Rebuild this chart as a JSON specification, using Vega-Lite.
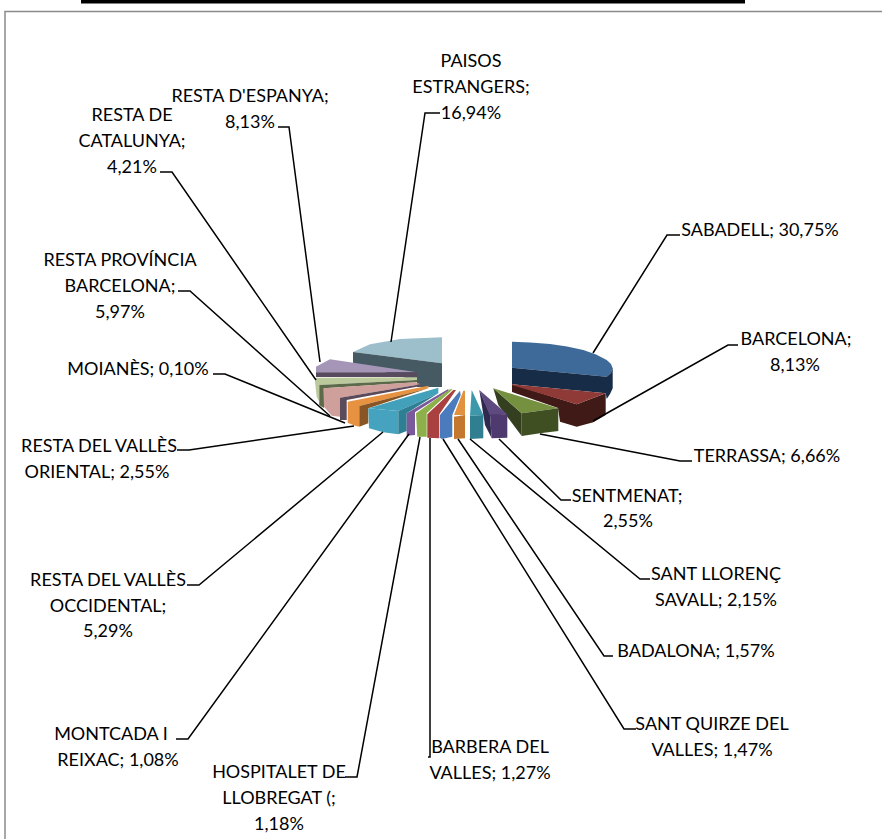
{"$schema":"https://vega.github.io/schema/vega-lite/v6.json","autosize":"none","width":882,"height":839,"padding":0,"background":"white","view":{"stroke":null},
"config":{"axis":{"domain":false,"ticks":false,"labels":false,"grid":false,"title":null}},
"datasets":{
"faces":[
{"p":"paisos_top","n":1,"x":353,"y":352},{"p":"paisos_top","n":2,"x":370,"y":344.3},{"p":"paisos_top","n":3,"x":400,"y":339},{"p":"paisos_top","n":4,"x":442,"y":337.3},{"p":"paisos_top","n":5,"x":442,"y":363.3},
{"p":"paisos_side","n":1,"x":353,"y":352},{"p":"paisos_side","n":2,"x":442,"y":363.3},{"p":"paisos_side","n":3,"x":442,"y":387},{"p":"paisos_side","n":4,"x":417,"y":387},{"p":"paisos_side","n":5,"x":417,"y":381},{"p":"paisos_side","n":6,"x":353,"y":363.5},
{"p":"espanya_top","n":1,"x":316,"y":366.7},{"p":"espanya_top","n":2,"x":330,"y":359.3},{"p":"espanya_top","n":3,"x":417,"y":372.3},{"p":"espanya_top","n":4,"x":316,"y":372.3},
{"p":"espanya_side","n":1,"x":316,"y":372.3},{"p":"espanya_side","n":2,"x":417,"y":372.3},{"p":"espanya_side","n":3,"x":417,"y":377},{"p":"espanya_side","n":4,"x":316,"y":377},
{"p":"catalunya_top","n":1,"x":315,"y":381.7},{"p":"catalunya_top","n":2,"x":316,"y":377.7},{"p":"catalunya_top","n":3,"x":417,"y":377.3},{"p":"catalunya_top","n":4,"x":417,"y":380},{"p":"catalunya_top","n":5,"x":319.3,"y":385},{"p":"catalunya_top","n":6,"x":319.3,"y":405},{"p":"catalunya_top","n":7,"x":324,"y":411},{"p":"catalunya_top","n":8,"x":316.7,"y":396.7},
{"p":"catalunya_side","n":1,"x":319.3,"y":385},{"p":"catalunya_side","n":2,"x":417,"y":380},{"p":"catalunya_side","n":3,"x":417,"y":382.3},{"p":"catalunya_side","n":4,"x":324,"y":388.3},{"p":"catalunya_side","n":5,"x":324,"y":408},{"p":"catalunya_side","n":6,"x":319.3,"y":405},
{"p":"provincia","n":1,"x":323.3,"y":388.3},{"p":"provincia","n":2,"x":415,"y":382.3},{"p":"provincia","n":3,"x":420.7,"y":384.3},{"p":"provincia","n":4,"x":340,"y":397.7},{"p":"provincia","n":5,"x":340,"y":416.7},{"p":"provincia","n":6,"x":331.7,"y":415.7},{"p":"provincia","n":7,"x":324,"y":406.7},
{"p":"moianes","n":1,"x":340,"y":397.7},{"p":"moianes","n":2,"x":420.7,"y":384.3},{"p":"moianes","n":3,"x":420.7,"y":386},{"p":"moianes","n":4,"x":346.7,"y":400},{"p":"moianes","n":5,"x":346.7,"y":420},{"p":"moianes","n":6,"x":340,"y":420},
{"p":"oriental_top","n":1,"x":347.7,"y":401.7},{"p":"oriental_top","n":2,"x":428.3,"y":385.7},{"p":"oriental_top","n":3,"x":428.3,"y":388.3},{"p":"oriental_top","n":4,"x":359.3,"y":406},{"p":"oriental_top","n":5,"x":359.3,"y":426.7},{"p":"oriental_top","n":6,"x":355,"y":425.7},{"p":"oriental_top","n":7,"x":347.7,"y":422.7},
{"p":"oriental_side","n":1,"x":359.3,"y":406},{"p":"oriental_side","n":2,"x":428.3,"y":388.3},{"p":"oriental_side","n":3,"x":368.3,"y":408.3},{"p":"oriental_side","n":4,"x":368.3,"y":423.3},{"p":"oriental_side","n":5,"x":359.3,"y":426.7},
{"p":"occidental_top","n":1,"x":368.3,"y":408.3},{"p":"occidental_top","n":2,"x":438.3,"y":387.7},{"p":"occidental_top","n":3,"x":438.3,"y":393.3},{"p":"occidental_top","n":4,"x":398.3,"y":411},
{"p":"occidental_front","n":1,"x":368.3,"y":408.3},{"p":"occidental_front","n":2,"x":398.3,"y":411},{"p":"occidental_front","n":3,"x":398.3,"y":434.3},{"p":"occidental_front","n":4,"x":383.3,"y":432.3},{"p":"occidental_front","n":5,"x":369,"y":428.3},
{"p":"occidental_side","n":1,"x":398.3,"y":411},{"p":"occidental_side","n":2,"x":438.3,"y":393.3},{"p":"occidental_side","n":3,"x":406.7,"y":413.3},{"p":"occidental_side","n":4,"x":406.7,"y":431},{"p":"occidental_side","n":5,"x":398.3,"y":434.3},
{"p":"montcada","n":1,"x":406.7,"y":413.3},{"p":"montcada","n":2,"x":448.3,"y":389},{"p":"montcada","n":3,"x":448.3,"y":391},{"p":"montcada","n":4,"x":415,"y":412.3},{"p":"montcada","n":5,"x":415,"y":435},{"p":"montcada","n":6,"x":406.7,"y":435.7},
{"p":"hospitalet","n":1,"x":416,"y":413.3},{"p":"hospitalet","n":2,"x":450,"y":389.3},{"p":"hospitalet","n":3,"x":452.7,"y":389.3},{"p":"hospitalet","n":4,"x":426.7,"y":413.3},{"p":"hospitalet","n":5,"x":426.7,"y":436.7},{"p":"hospitalet","n":6,"x":417.3,"y":436.7},
{"p":"barbera","n":1,"x":427.3,"y":414.3},{"p":"barbera","n":2,"x":453.3,"y":390},{"p":"barbera","n":3,"x":456,"y":390},{"p":"barbera","n":4,"x":439.3,"y":414.3},{"p":"barbera","n":5,"x":439.3,"y":438.3},{"p":"barbera","n":6,"x":427.3,"y":437.7},
{"p":"quirze","n":1,"x":440,"y":415},{"p":"quirze","n":2,"x":460,"y":390.7},{"p":"quirze","n":3,"x":460.7,"y":395},{"p":"quirze","n":4,"x":452.3,"y":415},{"p":"quirze","n":5,"x":452.3,"y":436.7},{"p":"quirze","n":6,"x":441.7,"y":439},{"p":"quirze","n":7,"x":440,"y":437.7},
{"p":"badalona_top","n":1,"x":454,"y":415},{"p":"badalona_top","n":2,"x":463.3,"y":390.7},{"p":"badalona_top","n":3,"x":465,"y":390.7},{"p":"badalona_top","n":4,"x":465,"y":415},
{"p":"badalona_front","n":1,"x":454,"y":416.7},{"p":"badalona_front","n":2,"x":465,"y":415},{"p":"badalona_front","n":3,"x":465,"y":438.3},{"p":"badalona_front","n":4,"x":454,"y":439},
{"p":"llorenc_top","n":1,"x":470,"y":415.7},{"p":"llorenc_top","n":2,"x":471.7,"y":390},{"p":"llorenc_top","n":3,"x":483.3,"y":415},
{"p":"llorenc_front","n":1,"x":470,"y":415.7},{"p":"llorenc_front","n":2,"x":483.3,"y":415},{"p":"llorenc_front","n":3,"x":483.3,"y":438.3},{"p":"llorenc_front","n":4,"x":470,"y":439},
{"p":"sabadell_top","n":1,"x":512,"y":341.7},{"p":"sabadell_top","n":2,"x":530,"y":342.4},{"p":"sabadell_top","n":3,"x":550,"y":344},{"p":"sabadell_top","n":4,"x":567,"y":346.4},{"p":"sabadell_top","n":5,"x":583.3,"y":350},{"p":"sabadell_top","n":6,"x":596,"y":354.5},{"p":"sabadell_top","n":7,"x":606.7,"y":360},{"p":"sabadell_top","n":8,"x":611,"y":364},{"p":"sabadell_top","n":9,"x":612.7,"y":368.3},{"p":"sabadell_top","n":10,"x":611,"y":373},{"p":"sabadell_top","n":11,"x":606.7,"y":376.7},{"p":"sabadell_top","n":12,"x":512,"y":367.7},
{"p":"sabadell_side","n":1,"x":512,"y":367.7},{"p":"sabadell_side","n":2,"x":606.7,"y":376.7},{"p":"sabadell_side","n":3,"x":611,"y":373},{"p":"sabadell_side","n":4,"x":612.7,"y":368.3},{"p":"sabadell_side","n":5,"x":612.7,"y":388.3},{"p":"sabadell_side","n":6,"x":610,"y":394},{"p":"sabadell_side","n":7,"x":606.7,"y":399},{"p":"sabadell_side","n":8,"x":605.7,"y":393.3},{"p":"sabadell_side","n":9,"x":512,"y":384.3},
{"p":"barcelona_side","n":1,"x":512,"y":384.3},{"p":"barcelona_side","n":2,"x":576.7,"y":404.3},{"p":"barcelona_side","n":3,"x":605.7,"y":393.3},{"p":"barcelona_side","n":4,"x":605.7,"y":415},{"p":"barcelona_side","n":5,"x":593.3,"y":422.3},{"p":"barcelona_side","n":6,"x":576.7,"y":426.7},{"p":"barcelona_side","n":7,"x":560,"y":421.7},{"p":"barcelona_side","n":8,"x":558,"y":408},{"p":"barcelona_side","n":9,"x":512,"y":392},
{"p":"barcelona_top","n":1,"x":512,"y":384.3},{"p":"barcelona_top","n":2,"x":605.7,"y":393.3},{"p":"barcelona_top","n":3,"x":576.7,"y":404.3},{"p":"barcelona_top","n":4,"x":512,"y":385},
{"p":"terrassa_left","n":1,"x":493.3,"y":388.3},{"p":"terrassa_left","n":2,"x":521.7,"y":413.3},{"p":"terrassa_left","n":3,"x":521.7,"y":436},{"p":"terrassa_left","n":4,"x":498.3,"y":405},
{"p":"terrassa_top","n":1,"x":493.3,"y":388.3},{"p":"terrassa_top","n":2,"x":558.3,"y":408.3},{"p":"terrassa_top","n":3,"x":521.7,"y":413.3},
{"p":"terrassa_front","n":1,"x":521.7,"y":413.3},{"p":"terrassa_front","n":2,"x":558.3,"y":408.3},{"p":"terrassa_front","n":3,"x":558.3,"y":431},{"p":"terrassa_front","n":4,"x":540,"y":433.3},{"p":"terrassa_front","n":5,"x":521.7,"y":436},
{"p":"sentmenat_left","n":1,"x":479.3,"y":390},{"p":"sentmenat_left","n":2,"x":490,"y":414.3},{"p":"sentmenat_left","n":3,"x":491.7,"y":438.3},{"p":"sentmenat_left","n":4,"x":485,"y":425},
{"p":"sentmenat_top","n":1,"x":479.3,"y":390},{"p":"sentmenat_top","n":2,"x":507.3,"y":414.3},{"p":"sentmenat_top","n":3,"x":490,"y":415.7},
{"p":"sentmenat_front","n":1,"x":490,"y":414.3},{"p":"sentmenat_front","n":2,"x":507.3,"y":414.3},{"p":"sentmenat_front","n":3,"x":507.3,"y":437.7},{"p":"sentmenat_front","n":4,"x":491.7,"y":438.3}
],
"leaders":[
{"p":"PAISOS","n":1,"x":440,"y":113},{"p":"PAISOS","n":2,"x":425,"y":113},{"p":"PAISOS","n":3,"x":391,"y":342},
{"p":"ESPANYA","n":1,"x":278,"y":127},{"p":"ESPANYA","n":2,"x":289,"y":127},{"p":"ESPANYA","n":3,"x":320,"y":362},
{"p":"CATALUNYA","n":1,"x":160,"y":172},{"p":"CATALUNYA","n":2,"x":172,"y":172},{"p":"CATALUNYA","n":3,"x":316,"y":380},
{"p":"PROVINCIA","n":1,"x":178,"y":291},{"p":"PROVINCIA","n":2,"x":190,"y":291},{"p":"PROVINCIA","n":3,"x":330,"y":416},
{"p":"MOIANES","n":1,"x":213,"y":374},{"p":"MOIANES","n":2,"x":225,"y":374},{"p":"MOIANES","n":3,"x":345,"y":423},
{"p":"ORIENTAL","n":1,"x":177,"y":450},{"p":"ORIENTAL","n":2,"x":189,"y":450},{"p":"ORIENTAL","n":3,"x":354,"y":426},
{"p":"OCCIDENTAL","n":1,"x":187,"y":585},{"p":"OCCIDENTAL","n":2,"x":199,"y":585},{"p":"OCCIDENTAL","n":3,"x":383,"y":432},
{"p":"MONTCADA","n":1,"x":176,"y":739},{"p":"MONTCADA","n":2,"x":188,"y":739},{"p":"MONTCADA","n":3,"x":409,"y":434},
{"p":"HOSPITALET","n":1,"x":345,"y":777},{"p":"HOSPITALET","n":2,"x":357,"y":777},{"p":"HOSPITALET","n":3,"x":420,"y":437},
{"p":"BARBERA","n":1,"x":428,"y":757},{"p":"BARBERA","n":2,"x":430,"y":757},{"p":"BARBERA","n":3,"x":430,"y":438},
{"p":"QUIRZE","n":1,"x":636,"y":729},{"p":"QUIRZE","n":2,"x":624,"y":729},{"p":"QUIRZE","n":3,"x":443,"y":439},
{"p":"BADALONA","n":1,"x":613,"y":656},{"p":"BADALONA","n":2,"x":604,"y":656},{"p":"BADALONA","n":3,"x":458,"y":439},
{"p":"LLORENC","n":1,"x":650,"y":579},{"p":"LLORENC","n":2,"x":640,"y":579},{"p":"LLORENC","n":3,"x":470,"y":439},
{"p":"SENTMENAT","n":1,"x":571,"y":500},{"p":"SENTMENAT","n":2,"x":561,"y":500},{"p":"SENTMENAT","n":3,"x":499,"y":439},
{"p":"TERRASSA","n":1,"x":692,"y":461},{"p":"TERRASSA","n":2,"x":680,"y":461},{"p":"TERRASSA","n":3,"x":540,"y":434},
{"p":"BARCELONA","n":1,"x":738,"y":345},{"p":"BARCELONA","n":2,"x":728,"y":345},{"p":"BARCELONA","n":3,"x":593,"y":421},
{"p":"SABADELL","n":1,"x":680,"y":235},{"p":"SABADELL","n":2,"x":667,"y":235},{"p":"SABADELL","n":3,"x":593,"y":353}
],
"labels":[
{"t":"PAISOS","x":471,"y":60},{"t":"ESTRANGERS;","x":471,"y":86},{"t":"16,94%","x":471,"y":112},
{"t":"RESTA D'ESPANYA;","x":250,"y":95},{"t":"8,13%","x":250,"y":121},
{"t":"RESTA DE","x":132,"y":114},{"t":"CATALUNYA;","x":132,"y":140},{"t":"4,21%","x":132,"y":166},
{"t":"RESTA PROVÍNCIA","x":120,"y":259},{"t":"BARCELONA;","x":120,"y":285},{"t":"5,97%","x":120,"y":311},
{"t":"MOIANÈS; 0,10%","x":138,"y":368},
{"t":"RESTA DEL VALLÈS","x":99,"y":445},{"t":"ORIENTAL; 2,55%","x":97,"y":471},
{"t":"RESTA DEL VALLÈS","x":108,"y":579},{"t":"OCCIDENTAL;","x":108,"y":605},{"t":"5,29%","x":108,"y":630},
{"t":"MONTCADA I","x":111,"y":733},{"t":"REIXAC; 1,08%","x":118,"y":759},
{"t":"HOSPITALET DE","x":279,"y":771},{"t":"LLOBREGAT (;","x":279,"y":797},{"t":"1,18%","x":279,"y":823},
{"t":"BARBERA DEL","x":490,"y":746},{"t":"VALLES; 1,27%","x":490,"y":772},
{"t":"SANT QUIRZE DEL","x":712,"y":723},{"t":"VALLES; 1,47%","x":712,"y":749},
{"t":"BADALONA; 1,57%","x":696,"y":650},
{"t":"SANT LLORENÇ","x":716,"y":573},{"t":"SAVALL; 2,15%","x":716,"y":599},
{"t":"SENTMENAT;","x":627,"y":495},{"t":"2,55%","x":628,"y":520},
{"t":"TERRASSA; 6,66%","x":767,"y":455},
{"t":"BARCELONA;","x":796,"y":338},{"t":"8,13%","x":795,"y":364},
{"t":"SABADELL; 30,75%","x":760,"y":229}
],
"frame":[{"n":1,"x":5,"y":839},{"n":2,"x":5,"y":11.5},{"n":3,"x":882,"y":11.5}],
"bar":[{"x":81,"x2":745,"y":0,"y2":3.5}]
},
"layer":[
{"data":{"name":"bar"},"mark":{"type":"rect","color":"#000000"},"encoding":{
"x":{"field":"x","type":"quantitative","scale":{"domain":[0,882],"nice":false,"zero":false},"axis":null},"x2":{"field":"x2"},
"y":{"field":"y","type":"quantitative","scale":{"domain":[839,0],"nice":false,"zero":false},"axis":null},"y2":{"field":"y2"}}},
{"data":{"name":"frame"},"mark":{"type":"line","color":"#8a8a8a","strokeWidth":1.5},"encoding":{
"x":{"field":"x","type":"quantitative"},"y":{"field":"y","type":"quantitative"},"order":{"field":"n"}}},
{"data":{"name":"faces"},"mark":{"type":"line","filled":true,"strokeWidth":0.6,"interpolate":"linear-closed"},"encoding":{
"x":{"field":"x","type":"quantitative"},"y":{"field":"y","type":"quantitative"},"order":{"field":"n"},"detail":{"field":"p"},
"fill":{"field":"p","type":"nominal","legend":null,"scale":{"domain":["paisos_top","paisos_side","espanya_top","espanya_side","catalunya_top","catalunya_side","provincia","moianes","oriental_top","oriental_side","occidental_top","occidental_front","occidental_side","montcada","hospitalet","barbera","quirze","badalona_top","badalona_front","llorenc_top","llorenc_front","sabadell_top","sabadell_side","barcelona_side","barcelona_top","terrassa_left","terrassa_top","terrassa_front","sentmenat_left","sentmenat_top","sentmenat_front"],"range":["#9dbfcc","#455a63","#a596b8","#584b60","#bcc99d","#5c6a4a","#cf9f9c","#5a4a5a","#e69240","#8a5524","#42a0bb","#45a3bf","#2f7f94","#7a5a9a","#8db04a","#a8413f","#4a7bbd","#e0923f","#c4782e","#3d98ab","#2f7f91","#3d6a98","#172c47","#401a16","#8f3a36","#333f1e","#75903f","#3f4f22","#2e2a50","#5f4a80","#4e3a6e"]}}}},
{"data":{"name":"leaders"},"mark":{"type":"line","color":"#000000","strokeWidth":1.5},"encoding":{
"x":{"field":"x","type":"quantitative"},"y":{"field":"y","type":"quantitative"},"order":{"field":"n"},"detail":{"field":"p"}}},
{"data":{"name":"labels"},"mark":{"type":"text","font":"Lato","fontSize":18,"color":"#000000","align":"center","baseline":"middle","dy":1.5},"encoding":{
"x":{"field":"x","type":"quantitative"},"y":{"field":"y","type":"quantitative"},"text":{"field":"t"}}}
],
"resolve":{"scale":{"fill":"independent"}}
}
